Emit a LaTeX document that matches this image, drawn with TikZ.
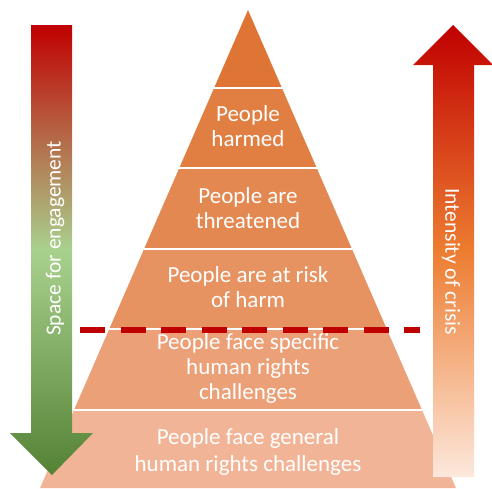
\documentclass[tikz,border=0pt]{standalone}
\usepackage{fontspec}
\setmainfont{Carlito}

\definecolor{crisisred}{RGB}{192,0,0}
\definecolor{crisisorange}{RGB}{237,125,49}
\definecolor{crisislight}{RGB}{252,232,220}
\definecolor{spacegreen}{RGB}{169,209,142}
\definecolor{spacedark}{RGB}{84,130,53}
\definecolor{tiertop}{RGB}{222,117,52}
\definecolor{tierbot}{RGB}{241,180,150}

\tikzset{
  tierlabel/.style={text=white, align=center, inner sep=0pt,
    font=\fontsize{23}{25}\selectfont,
    execute at begin node=\strut, execute at end node=\strut},
  arrowlabel/.style={text=white, inner sep=0pt, font=\fontsize{21.5}{25}\selectfont},
}

\begin{document}
\begin{tikzpicture}[x=1pt, y=-1pt]
    \useasboundingbox (0,0) rectangle (492,488);
    % pyramid, one trapezoid per tier
    \foreach \ytop/\ybot/\mix in {10/88/0, 88/168/14, 168/249/30, 249/329/46, 329/410/68, 410/488/100} {
      \pgfmathsetmacro\lt{248-0.435*(\ytop-10)}
      \pgfmathsetmacro\rt{248+0.435*(\ytop-10)}
      \pgfmathsetmacro\lb{248-0.435*(\ybot-10)}
      \pgfmathsetmacro\rb{248+0.435*(\ybot-10)}
      \fill[tierbot!\mix!tiertop] (\lt,\ytop) -- (\rt,\ytop) -- (\rb,\ybot) -- (\lb,\ybot) -- cycle;
      \draw[white, line width=2pt] (\lt,\ytop) -- (\rt,\ytop);
    }
    \node[tierlabel] (harmed) at (248,129.5) {People\\harmed};
    \node[tierlabel] (threatened) at (248,212) {People are\\threatened};
    \node[tierlabel] (risk) at (248,290.5) {People are at risk\\of harm};
    \node[tierlabel] (specific) at (248,370) {People face specific\\human rights\\challenges};
    \node[tierlabel] (general) at (248,453.5) {People face general\\[2pt]human rights challenges};
    % threshold
    \coordinate (cutw) at (80,330);
    \coordinate (cute) at (420,330);
    \draw[crisisred, line width=6pt, dash pattern=on 25pt off 15.5pt] (cutw) -- (cute);
    % side arrows (middle color has to come last)
    \shade[top color=crisisred, bottom color=spacedark, middle color=spacegreen]
      (31,25) -- (72,25) -- (72,433) -- (93,433) -- (52,475) -- (10,433) -- (31,433) -- cycle;
    \shade[top color=crisisred, bottom color=crisislight, middle color=crisisorange]
      (433,477) -- (433,65) -- (413,65) -- (453,25) -- (493,65) -- (474,65) -- (474,477) -- cycle;
    \node[arrowlabel, rotate=90] (space) at (55,238.5) {Space for engagement};
    \node[arrowlabel, rotate=-90] (crisis) at (451,261.5) {Intensity of crisis};
\end{tikzpicture}
\end{document}
